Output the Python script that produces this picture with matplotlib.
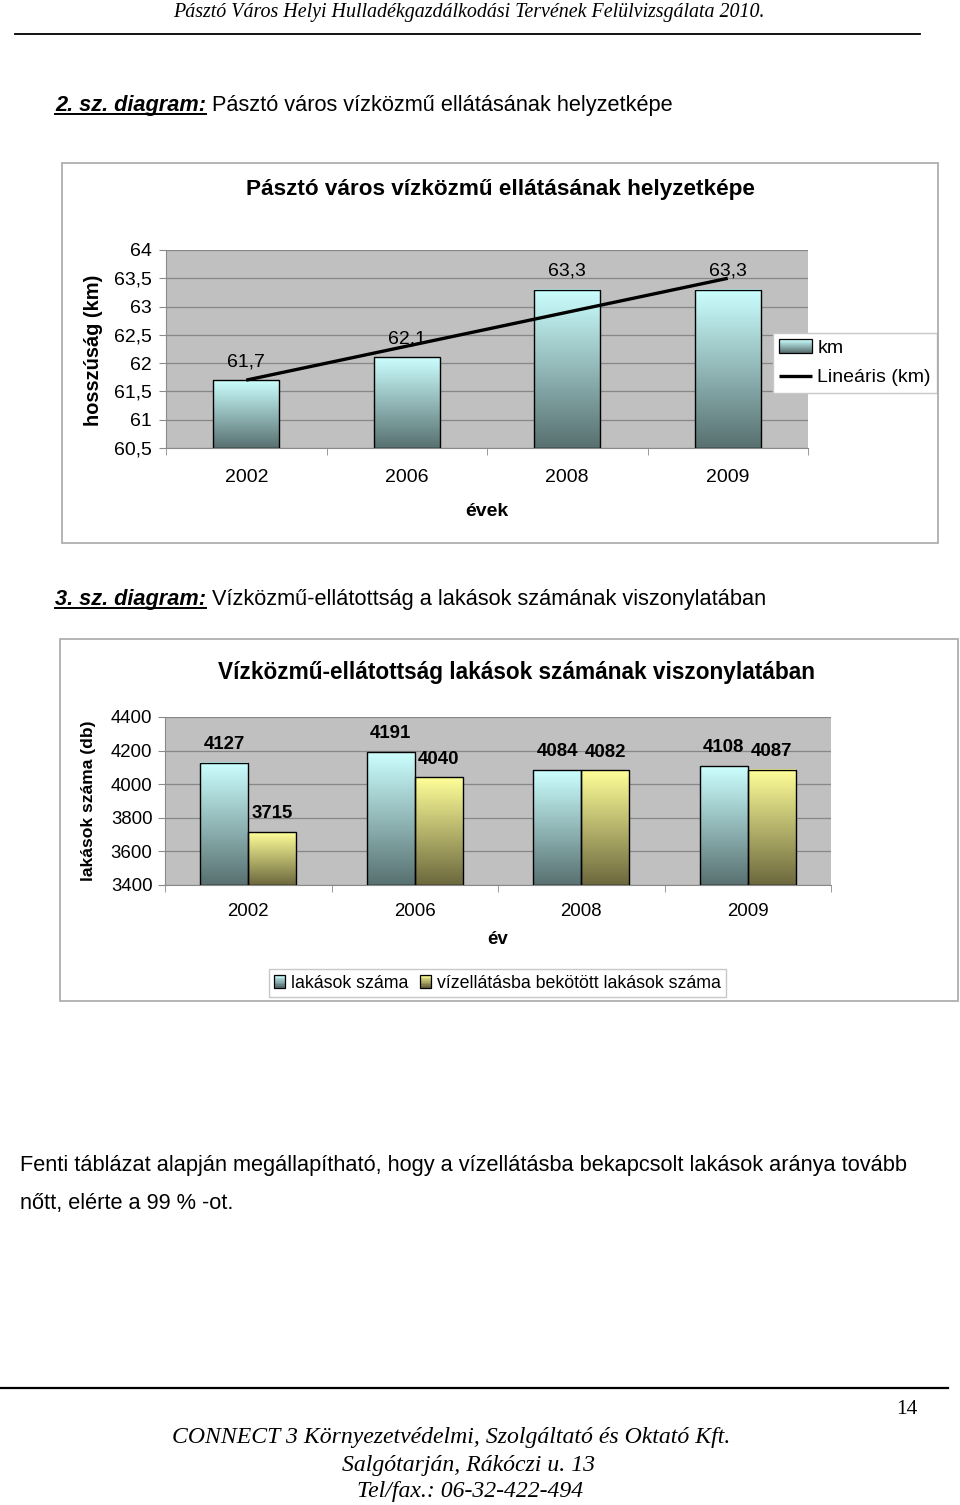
import numpy as np
import matplotlib
matplotlib.use("Agg")
import matplotlib.pyplot as plt
from matplotlib.patches import Rectangle
from matplotlib.lines import Line2D
from matplotlib.legend_handler import HandlerBase

# chart 1: length of the water network
years = ["2002", "2006", "2008", "2009"]
km_values = [61.7, 62.1, 63.3, 63.3]
km_labels = ["61,7", "62,1", "63,3", "63,3"]
km_ticks = [60.5, 61, 61.5, 62, 62.5, 63, 63.5, 64]

# chart 2: dwellings vs. dwellings connected to the water supply
dwellings = [4127, 4191, 4084, 4108]
connected = [3715, 4040, 4082, 4087]
db_ticks = [3400, 3600, 3800, 4000, 4200, 4400]

W, H = 960, 1505
SANS = "Liberation Sans"
SERIF = "Liberation Serif"

CYAN_TOP = np.array([204, 255, 255]) / 255
CYAN_BOTTOM = np.array([88, 112, 112]) / 255
YELLOW_TOP = np.array([255, 255, 153]) / 255
YELLOW_BOTTOM = np.array([108, 104, 62]) / 255
PLOT_BG = "#C0C0C0"
GRID = "#878787"
AXIS = "#8A8A8A"


def fx(x):
    return x / W


def fy(y):
    return 1 - y / H


def px_axes(fig, left, top, right, bottom):
    return fig.add_axes([left / W, 1 - bottom / H, (right - left) / W, (bottom - top) / H])


def gradient_fill(ax, patch, top, bottom):
    x0, y0 = patch.get_x(), patch.get_y()
    w, h = patch.get_width(), patch.get_height()
    g = np.linspace(0, 1, 256)[:, None, None]
    img = top * (1 - g) + bottom * g
    ax.imshow(img, extent=[x0, x0 + w, y0, y0 + h], origin="upper",
              aspect="auto", zorder=2, interpolation="bilinear")


class GradientHandler(HandlerBase):
    def __init__(self, top, bottom, n=14):
        super().__init__()
        self.top, self.bottom, self.n = top, bottom, n

    def create_artists(self, legend, orig_handle, xdescent, ydescent,
                       width, height, fontsize, trans):
        out = []
        for i in range(self.n):
            f = i / (self.n - 1)
            c = self.top * (1 - f) + self.bottom * f
            y = -ydescent + height * (1 - (i + 1) / self.n)
            out.append(Rectangle((-xdescent, y), width, height / self.n + 0.2,
                                 facecolor=c, edgecolor="none", transform=trans))
        out.append(Rectangle((-xdescent, -ydescent), width, height, fill=False,
                             edgecolor="black", lw=0.9, transform=trans))
        return out


def style_axes(ax, ymin, ymax, ticks, fmt, size, xpad, ypad):
    ax.set_facecolor(PLOT_BG)
    ax.set_xlim(-0.5, len(years) - 0.5)
    ax.set_ylim(ymin, ymax)
    ax.set_yticks(ticks)
    ax.set_yticklabels([fmt(t) for t in ticks])
    ax.yaxis.grid(True, color=GRID, lw=0.9)
    ax.set_axisbelow(True)
    for s in ("top", "right"):
        ax.spines[s].set_visible(False)
    for s in ("left", "bottom"):
        ax.spines[s].set_color(AXIS)
    ax.set_xticks(range(len(years)))
    ax.set_xticklabels(years)
    ax.set_xticks(np.arange(-0.5, len(years), 1.0), minor=True)
    ax.tick_params(axis="x", which="major", length=0, pad=xpad, labelsize=size)
    ax.tick_params(axis="x", which="minor", length=5, color=AXIS, direction="out")
    ax.tick_params(axis="y", length=5, color=AXIS, direction="out", pad=ypad, labelsize=size)
    for lab in ax.get_xticklabels() + ax.get_yticklabels():
        lab.set_fontfamily(SANS)


def caption(fig, x, y, num_text, rest):
    t = fig.text(fx(x), fy(y), num_text, fontsize=15.7, fontweight="bold", style="italic",
                 family=SANS, ha="left", va="center")
    r = fig.canvas.get_renderer()
    bb = t.get_window_extent(r)
    fig.add_artist(Line2D([bb.x0 / W, bb.x1 / W], [(bb.y0 + 2) / H] * 2,
                          color="black", lw=1.4))
    fig.text((bb.x1 + 6) / W, fy(y), rest, fontsize=15.7, family=SANS, ha="left", va="center")


def chart_box(fig, left, top, right, bottom):
    fig.add_artist(Rectangle((fx(left), fy(bottom)), (right - left) / W, (bottom - top) / H,
                             transform=fig.transFigure, fill=False,
                             edgecolor="#A8A8A8", lw=1.2))


fig = plt.figure(figsize=(W / 100, H / 100), dpi=100)
fig.patch.set_facecolor("white")

# page header
fig.text(fx(469), fy(13), "Pásztó Város Helyi Hulladékgazdálkodási Tervének Felülvizsgálata 2010.",
         family=SERIF, style="italic", fontsize=14.4, ha="center", va="center")
fig.add_artist(Line2D([fx(15), fx(920)], [fy(34)] * 2, color="black", lw=1.3))

caption(fig, 55, 105, "2. sz. diagram:", "Pásztó város vízközmű ellátásának helyzetképe")

# ---- chart 1 ----
chart_box(fig, 62, 163, 938, 543)
fig.text(fx(500), fy(190), "Pásztó város vízközmű ellátásának helyzetképe",
         family=SANS, fontweight="bold", fontsize=16.2, ha="center", va="center")

ax1 = px_axes(fig, 166, 250, 808, 448)
x = np.arange(len(years))
base1 = km_ticks[0]
bars1 = ax1.bar(x, np.array(km_values) - base1, bottom=base1, width=0.41,
                facecolor="none", edgecolor="black", lw=1.0, zorder=3)
for p in bars1:
    gradient_fill(ax1, p, CYAN_TOP, CYAN_BOTTOM)
for xi, v, lab in zip(x, km_values, km_labels):
    ax1.annotate(lab, (xi, v), xytext=(0, 7), textcoords="offset points",
                 ha="center", va="bottom", fontsize=14, family=SANS, zorder=5)

# linear trend line (Excel "Lineáris")
coef = np.polyfit(x, km_values, 1)
xl = np.array([x[0], x[-1]])
trend, = ax1.plot(xl, np.polyval(coef, xl), color="black", lw=2.4, zorder=4,
                  solid_capstyle="butt")

style_axes(ax1, km_ticks[0], km_ticks[-1], km_ticks,
           lambda t: f"{t:g}".replace(".", ","), 14, 15, 5)
ax1.set_xlabel("évek", family=SANS, fontweight="bold", fontsize=14, va="center")
ax1.xaxis.set_label_coords(0.5, (448 - 511) / 198)
ax1.set_ylabel("hosszúság (km)", family=SANS, fontweight="bold", fontsize=14.4, va="center")
ax1.yaxis.set_label_coords((93 - 166) / 642, (448 - 350) / 198)

proxy1 = Rectangle((0, 0), 1, 1)
leg1 = ax1.legend([proxy1, trend], ["km", "Lineáris (km)"],
                  handler_map={proxy1: GradientHandler(CYAN_TOP, CYAN_BOTTOM)},
                  loc="upper left", bbox_to_anchor=(fx(773), fy(333)),
                  bbox_transform=fig.transFigure, frameon=True, fancybox=False,
                  framealpha=1, edgecolor="#C8C8C8", borderaxespad=0,
                  prop={"family": SANS, "size": 14}, handlelength=1.65,
                  handleheight=0.7, handletextpad=0.3, labelspacing=0.6,
                  borderpad=0.33)
leg1.get_frame().set_linewidth(1.0)

# ---- chart 2 ----
caption(fig, 55, 600, "3. sz. diagram:", "Vízközmű-ellátottság a lakások számának viszonylatában")
chart_box(fig, 60, 639, 958, 1001)
fig.text(fx(516), fy(672), "Vízközmű-ellátottság lakások számának viszonylatában",
         family=SANS, fontweight="bold", fontsize=16.3, ha="center", va="center")

ax2 = px_axes(fig, 165, 717, 831, 885)
base2 = db_ticks[0]
bw = 0.288
bars_a = ax2.bar(x - bw / 2, np.array(dwellings) - base2, bottom=base2, width=bw,
                 facecolor="none", edgecolor="black", lw=1.0, zorder=3)
bars_b = ax2.bar(x + bw / 2, np.array(connected) - base2, bottom=base2, width=bw,
                 facecolor="none", edgecolor="black", lw=1.0, zorder=3)
for p in bars_a:
    gradient_fill(ax2, p, CYAN_TOP, CYAN_BOTTOM)
for p in bars_b:
    gradient_fill(ax2, p, YELLOW_TOP, YELLOW_BOTTOM)
for xi, v in zip(x - bw / 2, dwellings):
    ax2.annotate(str(v), (xi, v), xytext=(0, 7), textcoords="offset points",
                 ha="center", va="bottom", fontsize=13.4, fontweight="bold",
                 family=SANS, zorder=5)
for xi, v in zip(x + bw / 2, connected):
    ax2.annotate(str(v), (xi, v), xytext=(0, 7), textcoords="offset points",
                 ha="center", va="bottom", fontsize=13.4, fontweight="bold",
                 family=SANS, zorder=5)

style_axes(ax2, db_ticks[0], db_ticks[-1], db_ticks, lambda t: f"{t:d}", 13.4, 13, 4)
ax2.set_xlabel("év", family=SANS, fontweight="bold", fontsize=13.5, va="center")
ax2.xaxis.set_label_coords((498 - 165) / 666, (885 - 940) / 168)
ax2.set_ylabel("lakások száma (db)", family=SANS, fontweight="bold", fontsize=12.6, va="center")
ax2.yaxis.set_label_coords((88 - 165) / 666, (885 - 801) / 168)

proxy_a = Rectangle((0, 0), 1, 1)
proxy_b = Rectangle((0, 0), 1, 1)
leg2 = ax2.legend([proxy_a, proxy_b], ["lakások száma", "vízellátásba bekötött lakások száma"],
                  handler_map={proxy_a: GradientHandler(CYAN_TOP, CYAN_BOTTOM, 8),
                               proxy_b: GradientHandler(YELLOW_TOP, YELLOW_BOTTOM, 8)},
                  loc="center", bbox_to_anchor=(fx(497.5), fy(983)),
                  bbox_transform=fig.transFigure, ncol=2, frameon=True, fancybox=False,
                  framealpha=1, edgecolor="#C8C8C8", borderaxespad=0,
                  prop={"family": SANS, "size": 12.8}, handlelength=0.62,
                  handleheight=0.75, handletextpad=0.3, columnspacing=0.7,
                  borderpad=0.3)
leg2.get_frame().set_linewidth(1.0)

# ---- body text ----
fig.text(fx(20), fy(1165),
         "Fenti táblázat alapján megállapítható, hogy a vízellátásba bekapcsolt lakások aránya tovább",
         family=SANS, fontsize=15.7, ha="left", va="center")
fig.text(fx(20), fy(1203), "nőtt, elérte a 99 % -ot.",
         family=SANS, fontsize=15.7, ha="left", va="center")

# ---- page footer ----
fig.add_artist(Line2D([fx(0), fx(948)], [fy(1388)] * 2, color="black", lw=1.6))
fig.text(fx(907), fy(1410), "14", family=SERIF, fontsize=15.5, ha="center", va="center")
fig.text(fx(451), fy(1438), "CONNECT 3 Környezetvédelmi, Szolgáltató és Oktató Kft.",
         family=SERIF, style="italic", fontsize=17.1, ha="center", va="center")
fig.text(fx(469), fy(1465), "Salgótarján, Rákóczi u. 13",
         family=SERIF, style="italic", fontsize=17.1, ha="center", va="center")
fig.text(fx(470), fy(1492), "Tel/fax.: 06-32-422-494",
         family=SERIF, style="italic", fontsize=17.1, ha="center", va="center")

fig.savefig("out.png", dpi=100)
